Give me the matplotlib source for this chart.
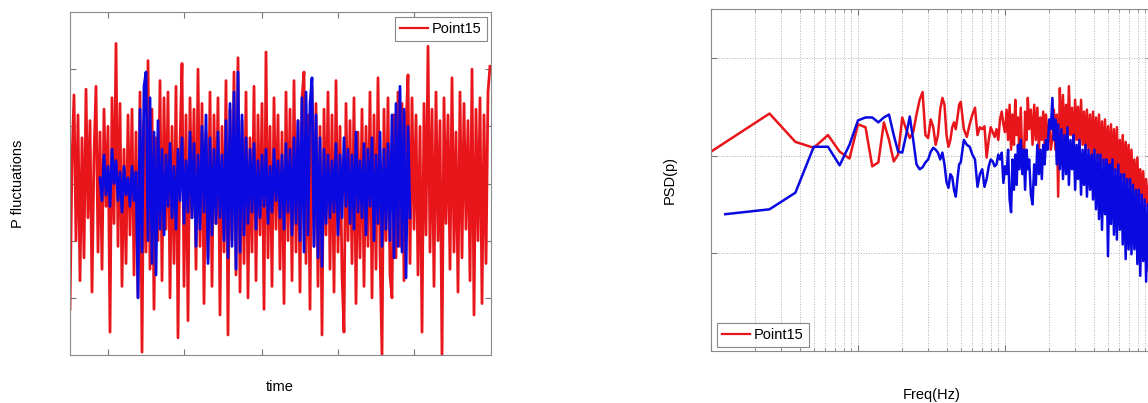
import matplotlib
matplotlib.use('Agg')
import matplotlib.pyplot as plt
import matplotlib.ticker as ticker
import numpy as np

RED = '#e8161b'
BLUE = '#0a0ae0'

# left panel: pressure fluctuation samples (red = Point15)
p_red = [
    -2.2, 0.4, 1.55, -1.0, 1.2, -1.7, 0.8, -1.3, 1.65, -0.6,
    1.1, -1.9, 0.5, 1.7, -1.2, 0.9, -1.5, 1.3, -0.4, 1.0,
    -2.6, 1.5, -0.7, 2.45, -1.1, 1.4, -1.8, 0.6, -1.4, 1.2,
    -0.9, 1.3, -1.6, 0.9, -2.0, 1.6, -2.95, 1.1, -1.2, 2.15,
    -1.5, 1.3, -2.2, 0.8, -1.0, 1.8, -1.7, 1.5, -0.8, 1.6,
    -2.0, 1.0, -1.4, 1.7, -2.7, 0.7, 2.1, -1.8, 1.2, -2.4,
    1.5, -0.6, 1.3, -1.5, 2.0, -1.1, 1.4, -2.1, 0.9, -1.3,
    1.6, -1.8, 1.2, -0.7, 1.5, -2.3, 1.0, -1.2, 1.8, -2.65,
    1.3, -1.0, 1.95, -1.6, 2.2, -1.9, 1.1, -1.4, 1.6, -2.0,
    0.8, -1.2, 1.7, -1.7, 1.2, -0.9, 1.4, -2.2, 2.3, -1.3,
    1.0, -1.8, 1.5, -0.8, 1.2, -1.5, 0.9, -2.1, 1.6, -1.0,
    1.3, -1.7, 1.8, -1.2, 1.1, -1.9, 1.5, 1.95, -1.4, 1.2,
    -2.2, 1.7, -1.1, 1.4, -1.8, 1.0, -2.65, 1.3, -0.9, 1.6,
    -1.5, 1.2, -1.9, 1.8, -1.2, 1.0, -1.6, -2.6, 1.4, -1.0,
    1.1, -1.4, 1.5, -2.1, 0.9, -1.3, 1.3, -1.8, 1.0, -1.1,
    1.6, -2.0, 1.2, -1.5, 1.85, -1.2, -3.0, 1.3, -1.0, 1.5,
    -1.6, -2.0, 1.2, -1.3, 1.6, -1.1, 1.4, -1.7, 1.0, 1.9,
    -1.4, 1.5, -0.8, 1.2, -1.6, 1.0, -2.6, 1.4, -0.9, 2.4,
    -1.2, 1.3, -1.8, 1.6, -1.0, 1.1, -3.0, 1.5, -0.7, 1.2,
    -1.5, 1.85, -1.2, 0.9, -1.9, 1.6, -1.3, 1.4, -0.8, 1.1,
    -1.7, 2.0, -2.3, 1.3, -1.0, 1.5, -2.1, 1.2, -1.4, 1.6,
    2.05,
]
blue_start = 15
p_blue = [
    0.1, -0.3, 0.5, -0.2, 0.3, -0.4, 0.6, 0.0, 0.4, -0.3,
    0.2, -0.5, 0.3, -0.2, 0.1, -0.4, 0.3, -0.3, 0.2, -2.0,
    1.3, -1.2, 1.7, 1.95, -1.0, 1.5, -1.4, 0.9, -1.6, 1.1,
    -0.8, 0.6, -0.9, 0.5, -0.4, 0.7, -0.6, 0.3, -0.8, 0.6,
    -0.3, 0.8, -0.7, 0.4, -0.5, 0.9, -0.6, 0.7, -1.1, 0.5,
    -0.8, 1.0, -0.5, 1.2, -1.4, 0.8, -0.9, 0.6, -0.7, 0.9,
    -0.6, 0.5, -1.0, 1.1, -1.3, 1.4, -1.1, 1.6, -1.5, 1.95,
    -1.2, 1.2, -0.9, 0.8, -0.7, 0.6, -0.5, 0.7, -0.8, 0.4,
    -0.6, 0.5, -0.4, 0.6, -0.7, 0.3, -0.5, 0.6, -0.3, 0.4,
    -0.6, 0.5, -0.8, 0.7, -0.5, 0.6, -0.9, 0.8, -0.7, 1.1,
    -1.0, 1.5, -1.2, 1.6, -0.9, 1.4, 1.85, -1.1, 1.2, -1.3,
    0.8, -1.45, 0.6, -0.7, 0.5, -0.6, 0.4, -0.5, 0.7, -0.9,
    0.5, -0.6, 0.8, -0.4, 0.6, -0.7, 0.5, -0.8, 0.9, -0.5,
    0.4, -0.6, 0.7, -0.9, 0.6, -0.4, 0.8, -1.0, 0.5, -0.7,
    0.9, -1.1, 0.6, -0.8, 0.7, -1.0, 1.2, -1.3, 1.4, -1.1,
    1.7, -1.2, 1.3, -1.65, 1.0, -0.6,
]

# right panel: power spectral density, stored as log10(PSD)
freq_hz = [
    1.0, 1.25, 2.5, 3.75, 5, 6.25, 7.5, 8.75, 10, 11.25,
    12.5, 13.75, 15, 16.25, 17.5, 18.75, 20, 21.25, 22.5, 23.75,
    25, 26.25, 27.5, 28.75, 30, 31.25, 32.5, 33.75, 35, 36.25,
    37.5, 38.75, 40, 41.25, 42.5, 43.75, 45, 46.25, 47.5, 48.75,
    50, 52.5, 55, 57.5, 60, 62.5, 65, 67.5, 70, 72.5,
    75, 77.5, 80, 82.5, 85, 87.5, 90, 92.5, 95, 97.5,
    100,
    102.5, 105, 107.5, 110, 112.5, 115, 117.5, 120, 122.5, 125,
    128, 131, 134, 137, 140, 143, 146, 150, 154, 158,
    162, 166, 170, 174, 178, 182, 186, 190, 195, 200,
    205, 210, 215, 220, 225, 230, 236, 242, 248, 254,
    260, 266, 272, 279, 286, 293, 300, 307, 314, 321,
    329, 337, 345, 353, 361, 370, 379, 388, 397, 406,
    416, 426, 436, 446, 457, 468, 479, 490, 502, 514,
    526, 538, 551, 564, 577, 590, 604, 618, 632, 647,
    662, 677, 693, 709, 725, 742, 759, 777, 795, 813,
    832, 851, 871, 891, 912, 933, 955, 977, 1000,
]
psd_red_log = [
    0.04, None, 0.43, 0.14, 0.08, 0.21, 0.04, -0.03, 0.32, 0.29,
    -0.11, -0.07, 0.34, 0.16, -0.06, 0.01, 0.39, 0.27, 0.18, 0.24,
    0.42, 0.57, 0.65, 0.21, 0.18, 0.37, 0.29, 0.11, 0.21, 0.47,
    0.59, 0.52, 0.21, 0.09, 0.16, 0.29, 0.34, 0.27, 0.39, 0.52,
    0.55, 0.27, 0.19, 0.32, 0.42, 0.49, 0.21, 0.29, 0.27, 0.30,
    -0.02, 0.16, 0.29, 0.24, 0.19, 0.27, 0.16, 0.37, 0.45, 0.32,
    0.24,
    0.47, 0.16, 0.52, 0.06, 0.42, 0.11, 0.57, 0.21, 0.39, 0.06,
    0.49, -0.04, -0.19, 0.45, 0.16, 0.59, 0.27, 0.47, 0.11, 0.52,
    0.16, 0.49, 0.06, 0.39, 0.16, 0.45, 0.11, 0.42, 0.16, 0.32,
    0.06, 0.18, 0.47, 0.06, 0.42, -0.42, 0.69, 0.16, 0.62, 0.06,
    0.52, 0.11, 0.71, 0.21, 0.49, 0.06, 0.57, 0.16, 0.50, 0.06,
    0.57, 0.11, 0.45, 0.01, 0.47, 0.06, 0.42, -0.04, 0.45, 0.01,
    0.39, -0.04, 0.42, -0.09, 0.35, -0.09, 0.37, -0.14, 0.30, -0.12,
    0.32, -0.19, 0.27, -0.16, 0.29, -0.22, 0.16, -0.24, 0.21, -0.30,
    0.14, -0.30, 0.11, -0.35, 0.06, -0.37, -0.04, -0.40, -0.02, -0.43,
    -0.14, -0.45, -0.16, -0.50, -0.24, -0.53, -0.30, -0.55, -0.35,
]
psd_blue_log = [
    None, -0.60, -0.55, -0.38, 0.09, 0.09, -0.10, 0.11, 0.36, 0.39,
    0.39, 0.34, 0.39, 0.42, 0.21, 0.04, 0.03, 0.21, 0.40, 0.16,
    -0.09, -0.14, -0.12, -0.07, -0.04, 0.04, 0.08, 0.06, 0.03, -0.04,
    0.03, -0.09, -0.27, -0.33, -0.19, -0.22, -0.35, -0.42, -0.24, -0.09,
    -0.07, 0.16, 0.11, 0.09, 0.01, -0.04, -0.32, -0.19, -0.14, -0.32,
    -0.24, -0.11, -0.04, -0.06, -0.11, -0.09, 0.01, -0.04, 0.03, -0.28,
    -0.11,
    -0.19, 0.06, -0.45, -0.58, -0.04, -0.35, 0.01, -0.30, 0.11, -0.14,
    0.16, -0.19, 0.06, -0.35, 0.06, -0.14, -0.04, -0.40, -0.50, -0.09,
    -0.30, 0.11, -0.19, 0.06, -0.24, 0.11, -0.09, 0.16, 0.06, 0.37,
    0.27, 0.59, 0.16, 0.37, -0.09, 0.32, -0.14, 0.27, -0.24, 0.21,
    -0.19, 0.29, -0.30, 0.16, -0.14, 0.21, -0.35, 0.11, -0.24, 0.16,
    -0.40, 0.06, -0.30, 0.11, -0.42, 0.06, -0.35, 0.01, -0.45, 0.06,
    -0.55, 0.01, -0.65, 0.01, -0.76, -0.04, -0.60, -0.04, -1.03, -0.09,
    -0.70, -0.04, -0.81, -0.14, -0.86, -0.09, -0.76, -0.19, -0.91, -0.19,
    -1.06, -0.24, -0.96, -0.24, -1.01, -0.30, -0.96, -0.35, -1.11, -0.35,
    -1.23, -0.40, -1.08, -0.45, -1.29, -0.50, -1.21, -0.55, -1.27,
]

plt.rcParams['font.family'] = ['Liberation Sans', 'DejaVu Sans']
W, H = 1148, 403
fig = plt.figure(figsize=(W / 100, H / 100), dpi=100)


def style_box(ax):
    for s in ax.spines.values():
        s.set_color('#8a8a8a')
        s.set_linewidth(0.8)
    ax.tick_params(which='both', direction='in', top=True, right=True,
                   labelbottom=False, labelleft=False, color='#777777')
    ax.tick_params(which='major', length=4)
    ax.tick_params(which='minor', length=2)


def add_legend(ax, line, loc, anchor):
    leg = ax.legend(handles=[line], loc=loc, bbox_to_anchor=anchor, borderaxespad=0,
                    fancybox=False, framealpha=1, edgecolor='#888888', fontsize=10.5,
                    handlelength=1.9, handletextpad=0.3, borderpad=0.35)
    leg.get_frame().set_linewidth(0.8)
    for h in leg.legend_handles:
        h.set_linewidth(1.6)


# ---- left: time signal
ax1 = fig.add_axes([70 / W, (H - 355) / H, 421 / W, 343 / H])
t_red = np.arange(len(p_red))
t_blue = np.arange(blue_start, blue_start + len(p_blue))
line1, = ax1.plot(t_red, p_red, color=RED, lw=2.0, label='Point15')
ax1.plot(t_blue, p_blue, color=BLUE, lw=2.0)
ax1.set_xlim(0, 210.5)
ax1.set_ylim(-3, 3)
ax1.set_xticks([19, 57, 96, 134, 172])
ax1.set_yticks([-2, -1, 0, 1, 2])
style_box(ax1)
ax1.set_ylabel('P fluctuations', fontsize=10.5, va='center')
ax1.yaxis.set_label_coords((18 - 70) / 421, 0.5)
ax1.set_xlabel('time', fontsize=10.5, va='center')
ax1.xaxis.set_label_coords((280 - 70) / 421, (355 - 387) / 343)
add_legend(ax1, line1, 'upper right', ((487 - 70) / 421, (355 - 17) / 343))

# ---- right: PSD
ax2 = fig.add_axes([711 / W, (H - 351) / H, 441 / W, 342 / H])
f = np.array(freq_hz, dtype=float)
r = np.array(psd_red_log, dtype=float)
b = np.array(psd_blue_log, dtype=float)
mr = np.isfinite(r)
mb = np.isfinite(b)
line2, = ax2.loglog(f[mr], 10 ** r[mr], color=RED, lw=1.8, label='Point15')
ax2.loglog(f[mb], 10 ** b[mb], color=BLUE, lw=1.8)
ax2.set_xlim(1, 1000)
ax2.set_ylim(1e-2, 10 ** 1.5)
ax2.yaxis.set_major_locator(ticker.FixedLocator([1e-1, 1e0, 1e1]))
ax2.yaxis.set_minor_locator(ticker.NullLocator())
ax2.grid(which='major', color='#b0b0b0', linestyle=':', linewidth=0.7)
ax2.grid(which='minor', axis='x', color='#b0b0b0', linestyle=':', linewidth=0.7)
ax2.set_axisbelow(True)
style_box(ax2)
ax2.set_ylabel('PSD(p)', fontsize=10.5, va='center')
ax2.yaxis.set_label_coords((670 - 711) / 441, 0.5)
ax2.set_xlabel('Freq(Hz)', fontsize=10.5, va='center')
ax2.xaxis.set_label_coords((932 - 711) / 441, (351 - 395) / 342)
add_legend(ax2, line2, 'lower left', ((717 - 711) / 441, (351 - 347) / 342))

fig.savefig('out.png', dpi=100)
